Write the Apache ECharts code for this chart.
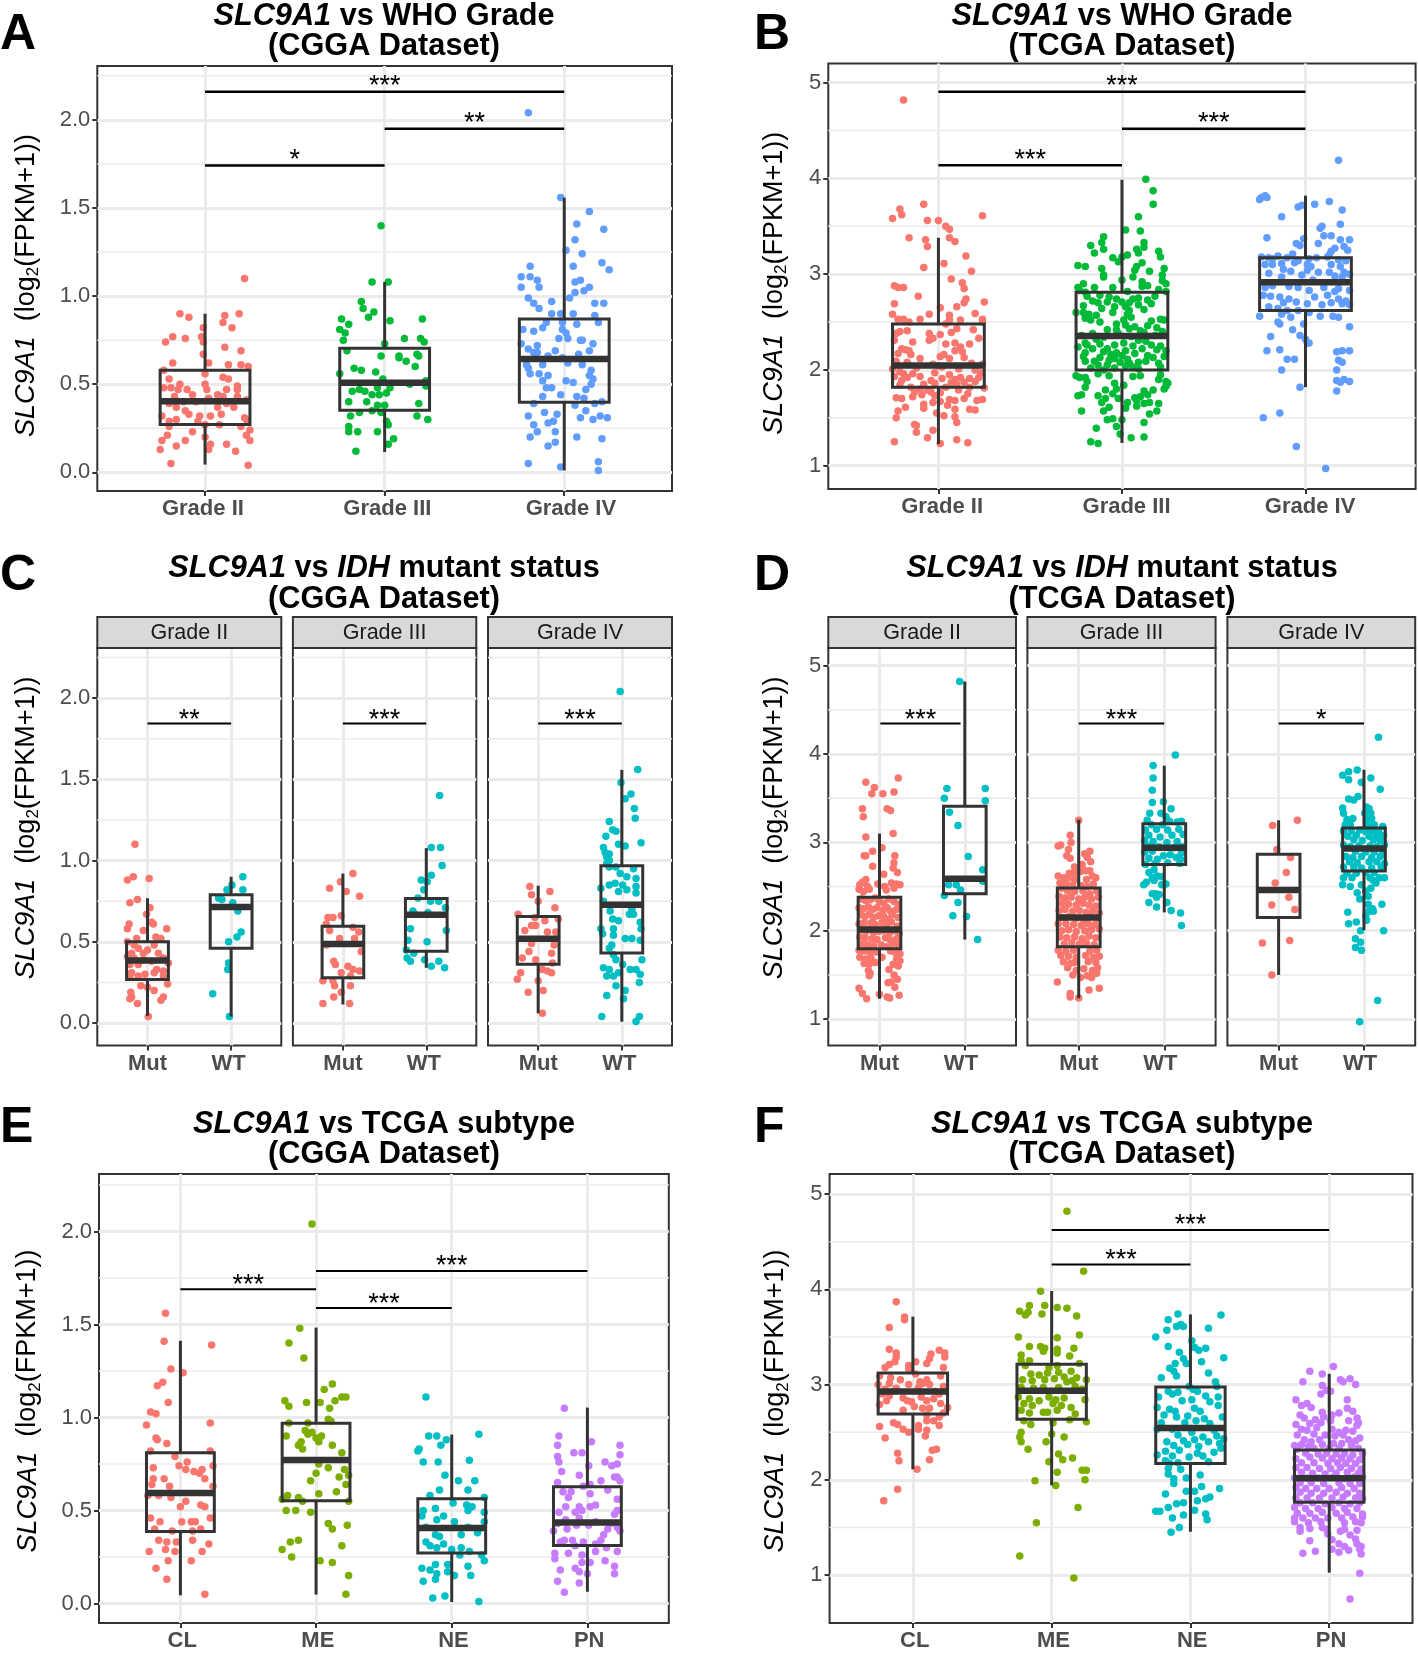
<!DOCTYPE html>
<html><head><meta charset="utf-8">
<style>html,body{margin:0;padding:0;background:#fff}#c{width:1418px;height:1653px}</style>
<script src="https://cdn.jsdelivr.net/npm/echarts@6/dist/echarts.min.js"></script>
</head><body><div id="c"></div>
<script>
// Tick values and labels
const cggaBreaks=[0,.5,1,1.5,2], cggaMinor=[.25,.75,1.25,1.75,2.25];
const tcgaBreaks=[1,2,3,4,5], tcgaMinor=[1.5,2.5,3.5,4.5];
const cggaLabels=['0.0','0.5','1.0','1.5','2.0'], tcgaLabels=['1','2','3','4','5'];
const gradeCats=['Grade II','Grade III','Grade IV'], idhCats=['Mut','WT'], subtypeCats=['CL','ME','NE','PN'];

// Box statistics per group: low whisker, q1, median, q3, high whisker
const boxA=[[.044,.272,.403,.58,.90],[.115,.352,.509,.704,1.08],[.011,.397,.643,.87,1.559]];
const boxB=[[1.226,1.82,2.045,2.48,3.38],[1.237,2.0,2.355,2.81,3.986],[1.82,2.62,2.916,3.17,3.82]];
const boxC2=[[.044,.268,.385,.50,.768],[.04,.46,.714,.789,.90]];
const boxC3=[[.114,.279,.487,.595,.92],[.34,.441,.666,.766,1.076]];
const boxC4=[[.06,.362,.518,.655,.845],[.008,.431,.728,.968,1.558]];
const boxD2=[[1.23,1.795,2.013,2.38,3.10],[1.90,2.42,2.587,3.41,4.82]];
const boxD3=[[1.237,1.818,2.15,2.484,3.256],[2.208,2.75,2.94,3.21,3.868]];
const boxD4=[[1.50,2.15,2.46,2.866,3.25],[2.006,2.675,2.93,3.164,3.822]];
const boxE=[[.044,.387,.594,.811,1.412],[.048,.552,.771,.969,1.483],[.008,.271,.406,.563,.908],[.063,.311,.435,.628,1.053]];
const boxF=[[2.11,2.692,2.927,3.12,3.713],[1.943,2.636,2.934,3.214,3.982],[1.455,2.17,2.543,2.975,3.736],[1.026,1.764,2.017,2.312,3.113]];

// Significance bars: from category, to category, height, stars
const sigA=[[1,3,2.16,'***'],[2,3,1.95,'**'],[1,2,1.742,'*']];
const sigB=[[1,3,4.906,'***'],[2,3,4.519,'***'],[1,2,4.136,'***']];
const sigC2=[[1,2,1.844,'**']], sigC3=[[1,2,1.844,'***']], sigC4=[[1,2,1.844,'***']];
const sigD2=[[1.01,1.95,4.346,'***']], sigD3=[[1,2,4.346,'***']], sigD4=[[1,2,4.346,'*']];
const sigE=[[1,2,1.689,'***'],[2,3,1.588,'***'],[2,4,1.788,'***']];
const sigF=[[2,3,4.261,'***'],[2,4,4.623,'***']];

// Jittered observations, as flat pairs: horizontal jitter, expression value
const A1=[.22,1.1,-.14,.9,-.09,.88,.19,.9,.11,.89,.1,.85,.15,.82,-.01,.82,-.22,.74,-.18,.77,-.11,.76,-.02,.77,-.01,.74,.11,.71,.2,.69,-.01,.67,-.18,.62,.02,.62,.13,.61,.2,.61,.24,.6,-.23,.58,0,.56,-.2,.53,-.14,.5,-.23,.48,-.19,.48,-.15,.47,-.1,.47,0,.5,.01,.47,.1,.54,.13,.53,.18,.49,.18,.47,.12,.47,-.17,.43,-.07,.44,.02,.42,.07,.44,.1,.43,.18,.43,.23,.41,-.2,.39,-.12,.4,-.05,.4,-.16,.37,-.09,.33,-.11,.35,.07,.37,.12,.39,.16,.37,-.03,.32,.03,.32,.09,.33,-.24,.32,-.16,.3,-.2,.29,.22,.31,.23,.3,-.04,.29,.08,.27,0,.27,-.2,.26,.2,.26,-.07,.23,.25,.24,-.21,.21,.23,.21,-.24,.18,-.11,.18,0,.2,.25,.18,-.16,.15,.03,.16,.12,.16,-.25,.13,.02,.13,.17,.12,-.19,.05,.24,.04];
const A2=[-.02,1.4,-.07,1.08,.02,1.08,-.13,.97,-.12,.93,-.06,.91,-.09,.88,.03,.86,-.24,.87,.21,.87,-.2,.84,-.25,.81,-.22,.79,-.23,.75,.11,.76,.2,.76,.22,.74,0,.73,-.21,.69,-.02,.66,.08,.66,.08,.65,.18,.67,.19,.66,.12,.63,.17,.6,-.17,.59,-.13,.58,-.25,.56,-.05,.57,-.01,.53,.23,.52,.23,.49,.14,.5,-.04,.48,.03,.48,-.18,.46,-.14,.47,-.11,.46,-.07,.44,-.03,.44,.01,.45,-.2,.4,-.1,.4,-.04,.38,0,.38,.19,.39,-.19,.32,-.14,.34,-.07,.35,-.02,.34,.18,.32,.24,.3,.01,.29,-.2,.26,.02,.27,-.2,.23,-.15,.23,-.04,.23,.05,.19,.02,.16,-.16,.12];
const A3=[-.2,2.04,-.02,1.56,.14,1.48,.07,1.41,.22,1.38,.06,1.32,.01,1.26,.1,1.24,.21,1.19,.25,1.15,-.19,1.17,.05,1.17,-.24,1.11,-.19,1.11,-.15,1.09,.06,1.08,.09,1.09,-.24,1.05,-.14,1.05,.14,1.05,.11,1.03,.06,1.02,-.2,.99,.03,.99,-.17,.96,-.07,.97,.17,.96,.22,.96,-.14,.93,-.07,.9,-.02,.9,.05,.9,.17,.89,-.01,.85,.19,.85,-.1,.85,.07,.84,-.23,.81,-.12,.82,-.17,.8,-.01,.81,.01,.79,-.03,.76,.02,.76,.09,.75,.1,.75,-.24,.73,.16,.73,-.15,.72,-.2,.7,-.05,.69,-.17,.68,-.15,.68,.14,.69,.08,.67,-.09,.66,-.01,.65,-.21,.61,-.12,.61,.02,.62,.1,.61,-.2,.59,.15,.58,-.19,.56,-.09,.55,-.14,.56,.14,.55,-.12,.52,.01,.52,.05,.51,.16,.53,.15,.5,-.1,.48,-.07,.48,.12,.47,-.12,.43,-.02,.44,.07,.43,.11,.42,-.17,.39,.06,.38,.17,.39,.21,.4,-.11,.34,-.04,.33,-.2,.32,.12,.35,.2,.32,.24,.31,.09,.31,.16,.3,-.17,.27,-.06,.29,-.09,.28,-.19,.2,-.15,.23,-.05,.23,.07,.2,.21,.19,-.05,.17,-.09,.15,-.2,.05,-.02,.03,.19,.06,.19,.01];
const B1=[-.19,4.82,-.21,3.68,-.08,3.73,-.2,3.62,-.25,3.58,-.06,3.56,0,3.56,.24,3.61,.04,3.5,.06,3.47,-.16,3.38,-.07,3.36,.06,3.38,.09,3.34,-.06,3.29,.15,3.19,.03,3.11,-.08,3.07,.18,3.03,.07,2.95,.13,2.91,-.24,2.88,-.22,2.86,-.19,2.86,.14,2.85,-.11,2.77,.15,2.74,.14,2.7,.25,2.71,-.24,2.69,.1,2.66,.01,2.65,.2,2.59,-.25,2.58,-.05,2.58,.06,2.57,-.22,2.53,-.19,2.53,-.1,2.53,.06,2.52,.12,2.52,.24,2.53,-.16,2.5,.24,2.5,.04,2.48,-.17,2.41,-.21,2.4,-.23,2.38,-.05,2.38,.01,2.37,.07,2.39,.1,2.43,.19,2.42,-.03,2.33,-.05,2.31,.22,2.33,-.24,2.31,-.14,2.29,.09,2.28,.04,2.27,.17,2.27,.12,2.24,-.2,2.22,-.18,2.21,-.16,2.2,.09,2.2,.13,2.19,-.22,2.17,-.15,2.16,.03,2.16,.01,2.14,-.1,2.12,.06,2.12,.14,2.13,-.23,2.09,-.17,2.08,.18,2.07,.24,2.06,-.03,2.06,0,2.04,.02,2.03,-.12,2.02,.11,2.01,.2,2,-.25,2.01,-.21,1.98,-.19,1.96,-.14,1.96,-.02,1.97,.06,1.95,.23,1.97,-.24,1.93,-.1,1.93,-.17,1.92,.02,1.91,.12,1.92,.17,1.91,.09,1.9,.22,1.92,-.04,1.89,-.2,1.89,.07,1.87,.14,1.87,.2,1.88,-.21,1.84,-.08,1.85,-.02,1.86,.1,1.85,.25,1.81,.17,1.82,-.15,1.82,.04,1.82,-.1,1.8,-.06,1.79,.11,1.79,-.13,1.77,-.04,1.77,.01,1.76,.16,1.75,-.09,1.74,-.02,1.73,-.14,1.72,-.23,1.71,-.2,1.7,.06,1.69,.09,1.68,.14,1.7,.21,1.68,.24,1.69,.01,1.67,-.03,1.66,.05,1.63,-.08,1.64,-.18,1.61,-.08,1.6,.09,1.59,.17,1.59,.2,1.58,-.22,1.57,-.01,1.55,.03,1.52,-.23,1.5,.09,1.51,.1,1.45,-.13,1.43,-.12,1.42,-.03,1.37,-.12,1.35,-.06,1.29,.1,1.27,-.24,1.25,.16,1.24,.01,1.23];
const B2=[.13,3.99,.17,3.87,.17,3.73,.09,3.6,.1,3.45,.02,3.46,-.1,3.39,-.11,3.33,-.17,3.3,.12,3.33,.12,3.28,-.1,3.26,-.15,3.22,.08,3.26,.09,3.22,.2,3.24,.03,3.2,0,3.18,.21,3.18,-.05,3.17,-.24,3.09,-.2,3.08,-.02,3.13,.11,3.12,-.11,3.06,.08,3.08,.23,3.06,.07,3.04,.15,3.03,.22,2.99,-.1,2.99,-.1,2.97,.06,2.97,0,2.94,.11,2.92,.22,2.93,.24,2.9,-.21,2.9,-.24,2.86,-.15,2.86,-.05,2.86,.11,2.87,.14,2.88,-.23,2.83,-.2,2.81,.03,2.82,.2,2.84,.24,2.82,-.19,2.77,-.12,2.78,-.07,2.76,-.03,2.74,.06,2.74,.09,2.75,.14,2.73,.18,2.77,-.16,2.72,-.13,2.7,-.08,2.71,0,2.71,.04,2.7,.09,2.68,.16,2.69,-.21,2.67,-.04,2.66,.02,2.66,-.11,2.64,.04,2.62,.12,2.63,-.25,2.6,-.21,2.6,-.18,2.58,-.14,2.57,-.05,2.6,.03,2.58,.05,2.55,-.2,2.54,-.17,2.52,-.12,2.5,.01,2.52,.21,2.53,.16,2.51,.23,2.52,-.03,2.48,.02,2.47,.07,2.45,.14,2.46,.19,2.44,-.08,2.42,-.03,2.42,.04,2.43,.1,2.41,.12,2.39,.22,2.4,-.16,2.38,-.02,2.38,-.22,2.36,-.1,2.34,.05,2.35,.18,2.36,-.14,2.32,.09,2.31,.13,2.3,-.2,2.28,-.19,2.26,-.12,2.27,-.04,2.26,.01,2.28,.06,2.25,.16,2.26,.21,2.25,-.24,2.24,-.16,2.22,-.08,2.22,.02,2.2,.11,2.22,.19,2.21,.24,2.2,-.2,2.18,-.1,2.19,-.03,2.18,-.06,2.16,0,2.15,.07,2.17,.14,2.15,-.21,2.14,-.12,2.13,-.04,2.12,.03,2.11,.17,2.13,.23,2.14,-.2,2.09,-.15,2.09,-.07,2.1,-.01,2.08,.04,2.07,.09,2.08,.13,2.09,.2,2.07,-.13,2.05,-.08,2.05,.02,2.04,.06,2.03,.21,2.03,-.17,2.02,-.1,2,-.04,2.02,.09,2.01,-.25,1.94,-.23,1.92,-.2,1.92,-.13,1.96,-.07,1.94,.06,1.93,.1,1.94,.21,1.95,.24,1.88,.2,1.9,-.19,1.88,-.04,1.86,.01,1.84,.25,1.86,-.2,1.82,-.09,1.79,-.03,1.8,.12,1.78,.17,1.79,.23,1.8,.24,1.83,-.24,1.73,-.22,1.74,-.13,1.73,-.09,1.7,-.05,1.75,.14,1.74,.1,1.72,.07,1.71,.08,1.68,-.11,1.66,-.02,1.7,.03,1.66,.12,1.65,.15,1.66,.2,1.65,-.22,1.57,-.1,1.57,-.07,1.61,.02,1.6,.08,1.62,.15,1.54,.19,1.57,-.08,1.48,-.05,1.49,0,1.48,.12,1.45,-.14,1.39,-.03,1.41,-.01,1.33,.05,1.29,.12,1.3,-.17,1.25,-.13,1.23];
const B3=[.18,4.19,-.25,3.78,-.24,3.8,-.22,3.82,-.21,3.8,-.02,3.72,-.04,3.7,.05,3.73,.13,3.76,.2,3.67,-.13,3.6,.19,3.52,.09,3.5,.08,3.48,.1,3.4,.14,3.4,.19,3.36,.24,3.36,-.21,3.38,-.03,3.3,-.05,3.32,-.01,3.37,.07,3.32,.14,3.24,.13,3.2,.16,3.27,.21,3.29,.23,3.25,-.15,3.19,-.24,3.18,-.07,3.21,-.2,3.17,-.18,3.16,-.1,3.17,-.04,3.14,.02,3.16,.06,3.17,.12,3.18,.18,3.15,.22,3.14,-.22,3.1,-.18,3.1,-.13,3.11,-.06,3.12,.01,3.1,.03,3.08,.14,3.1,.19,3.08,-.12,3.05,-.08,3.03,.01,3.04,.07,3.02,.13,3.02,.21,3.02,.24,3,-.2,3.01,-.02,2.99,-.13,2.97,.16,2.98,.2,2.97,.04,2.94,-.22,2.86,-.18,2.88,-.09,2.87,-.04,2.86,.02,2.83,.1,2.86,.18,2.85,.16,2.82,.24,2.83,-.23,2.78,-.19,2.77,-.14,2.76,-.09,2.74,.05,2.76,.12,2.78,.18,2.74,.22,2.72,-.12,2.7,-.05,2.71,.01,2.69,.09,2.68,.14,2.7,.2,2.69,.24,2.68,-.2,2.66,-.15,2.64,-.1,2.62,-.04,2.62,.02,2.6,-.25,2.56,-.13,2.58,.08,2.56,.15,2.56,.18,2.55,-.08,2.55,-.14,2.48,-.15,2.5,-.01,2.48,.24,2.45,-.07,2.42,-.19,2.35,-.03,2.36,0,2.32,.01,2.28,.02,2.28,-.21,2.2,-.14,2.21,.17,2.19,.2,2.2,.24,2.2,-.1,2.11,-.06,2.11,.18,2.1,.2,2.08,-.13,2,.17,2,.17,1.89,.19,1.87,.21,1.9,.24,1.88,-.03,1.82,.17,1.78,-.14,1.55,-.23,1.5,-.05,1.2,.11,.97];
const C2a=[-.15,1.1,-.17,.9,-.24,.88,.02,.89,-.12,.76,-.21,.74,.03,.71,-.01,.67,.05,.62,.07,.61,-.22,.61,-.24,.58,.23,.58,-.05,.57,.1,.53,-.13,.52,.16,.52,-.24,.5,-.16,.48,.08,.48,-.11,.46,0,.45,-.19,.43,-.05,.43,.13,.43,-.24,.41,-.16,.4,.19,.4,-.05,.39,.05,.38,.25,.37,-.21,.36,-.11,.36,.11,.33,.19,.32,-.19,.31,-.03,.3,-.11,.29,.08,.31,.19,.29,-.21,.28,.24,.24,-.08,.23,0,.22,-.2,.19,.08,.2,-.21,.15,-.19,.16,.19,.16,.16,.14,-.12,.12,.01,.04];
const C2b=[.14,.9,.01,.85,-.05,.82,.14,.82,-.15,.77,-.11,.76,.02,.74,.08,.69,.12,.56,.07,.53,-.03,.5,-.03,.37,-.04,.33,-.22,.18,-.02,.04];
const C3a=[.12,.92,-.03,.87,-.16,.83,.04,.81,.2,.78,-.18,.65,-.12,.65,-.02,.66,-.2,.61,.12,.59,-.16,.57,-.04,.52,.19,.56,.14,.52,-.2,.48,.22,.44,-.11,.38,-.09,.36,.06,.35,.12,.33,.2,.32,-.02,.31,.09,.29,-.24,.26,-.12,.26,-.1,.23,.09,.23,-.02,.19,-.11,.16,-.24,.12,.08,.12];
const C3b=[.16,1.4,.06,1.08,.17,1.08,.19,.97,.06,.91,-.06,.88,.01,.87,-.03,.82,-.1,.77,.05,.75,.15,.75,-.16,.69,-.14,.67,.02,.68,.23,.71,-.19,.58,.24,.57,-.22,.51,.01,.5,-.24,.45,-.15,.43,-.23,.4,-.19,.38,-.02,.39,.15,.38,.06,.35,.22,.34];
const C4a=[-.1,.84,.14,.81,-.08,.79,0,.75,.2,.71,-.24,.67,-.04,.65,.08,.63,.24,.64,-.08,.6,-.03,.6,-.16,.57,.11,.56,.21,.56,-.08,.49,.19,.48,-.11,.44,.16,.43,-.19,.4,-.03,.39,.17,.37,-.21,.31,.05,.33,.11,.32,.16,.31,-.25,.27,0,.26,-.12,.19,.06,.2,.05,.06];
const C4b=[-.02,2.04,.19,1.56,-.01,1.48,.11,1.41,.04,1.38,.15,1.32,.16,1.26,-.15,1.24,-.11,1.19,-.07,1.18,-.19,1.15,-.04,1.1,.04,1.09,.23,1.11,-.22,1.08,-.2,1.05,-.15,1.04,-.18,1.02,-.15,1,-.18,.98,-.15,.96,-.07,.96,.14,.95,-.02,.92,.06,.9,.17,.89,-.25,.83,-.15,.85,-.08,.86,.01,.85,.17,.84,.06,.82,-.04,.81,.17,.8,-.22,.75,-.14,.69,.09,.67,.14,.67,.12,.7,-.11,.64,-.04,.63,.22,.62,-.1,.58,-.25,.58,.23,.58,-.23,.55,-.1,.54,.04,.52,.12,.52,-.12,.48,.22,.51,-.15,.46,-.1,.42,-.07,.39,.24,.39,.01,.36,-.22,.34,-.15,.33,.1,.33,.17,.33,-.04,.31,.22,.3,-.18,.29,-.1,.29,.21,.25,-.07,.23,.04,.2,-.18,.17,.02,.15,-.24,.04,.21,.04,.17,.01];
const D2a=[-.16,3.68,.22,3.73,-.06,3.62,-.09,3.55,.04,3.55,.17,3.57,-.2,3.38,.09,3.38,.13,3.36,-.19,3.29,.16,3.1,-.16,3.06,-.08,2.9,-.18,2.85,-.16,2.85,.18,2.85,.03,2.94,.17,2.77,-.08,2.73,.16,2.71,.21,2.66,.05,2.64,-.16,2.58,-.2,2.55,-.23,2.52,-.14,2.5,-.02,2.53,.06,2.5,.14,2.54,.2,2.53,.24,2.52,-.24,2.47,-.19,2.44,-.12,2.47,.08,2.46,.17,2.48,-.21,2.36,-.16,2.34,-.11,2.35,-.05,2.37,0,2.33,.05,2.31,.11,2.36,.17,2.33,.22,2.3,-.24,2.26,-.19,2.25,-.13,2.27,-.08,2.24,-.03,2.26,.04,2.23,.09,2.26,.13,2.22,.2,2.24,-.22,2.18,-.17,2.16,-.12,2.19,-.07,2.15,-.01,2.17,.05,2.16,.1,2.13,.15,2.18,.22,2.15,-.24,2.08,-.18,2.09,-.1,2.09,-.05,2.07,.03,2.09,.08,2.07,.14,2.1,.21,2.05,-.21,2.01,-.16,1.99,-.13,2.02,-.07,1.98,-.01,1.99,.04,2,.12,1.98,.18,2,.23,1.97,-.23,1.93,-.17,1.92,-.09,1.91,-.03,1.9,.07,1.92,.12,1.9,.2,1.91,-.2,1.85,-.14,1.84,-.07,1.83,.02,1.84,.09,1.82,.15,1.85,.22,1.84,-.24,1.78,-.18,1.77,-.11,1.75,-.04,1.76,.13,1.77,.19,1.75,.24,1.74,-.23,1.7,-.16,1.68,-.1,1.69,.03,1.7,.2,1.68,.24,1.66,-.18,1.63,-.12,1.62,-.05,1.64,.16,1.62,.22,1.6,-.13,1.55,-.11,1.52,-.12,1.49,.11,1.56,.17,1.5,.21,1.45,.18,1.36,.1,1.41,.14,1.42,-.24,1.35,-.2,1.29,-.15,1.23,.09,1.25,.12,1.24,.23,1.27,0,1.28];
const D2b=[-.06,4.82,-.21,3.61,.24,3.61,-.24,3.5,.24,3.47,-.18,3.34,-.08,3.19,.04,2.84,.21,2.69,-.19,2.52,-.1,2.52,-.05,2.46,-.24,2.4,-.08,2.32,-.14,2.17,.02,2.16,.15,1.9,.21,2.56];
const D3a=[0,3.25,-.1,3.08,-.09,3,-.24,2.96,-.21,2.97,-.12,2.92,.13,2.9,.07,2.87,-.14,2.85,-.1,2.82,.1,2.83,.14,2.78,.04,2.75,-.05,2.72,.13,2.68,-.11,2.65,-.05,2.66,.02,2.67,.08,2.68,.16,2.62,-.24,2.62,-.17,2.6,-.11,2.6,-.04,2.58,.09,2.58,.2,2.6,-.22,2.54,-.15,2.53,-.07,2.52,.03,2.51,.1,2.5,.17,2.53,-.2,2.48,-.13,2.45,-.05,2.44,.05,2.45,.13,2.42,.21,2.45,-.23,2.39,-.16,2.37,-.09,2.38,0,2.36,.07,2.38,.15,2.36,.23,2.38,-.2,2.31,-.12,2.3,-.03,2.29,.05,2.31,.12,2.29,.2,2.28,-.23,2.23,-.16,2.24,-.07,2.22,.01,2.23,.09,2.21,.17,2.23,.24,2.2,-.19,2.15,-.11,2.16,-.03,2.14,.06,2.12,.14,2.16,.22,2.14,-.24,2.08,-.15,2.08,-.06,2.07,.03,2.06,.11,2.08,.19,2.07,-.2,2,-.12,2.01,-.03,1.99,.07,2,.15,2.01,.24,2.02,-.22,1.93,-.14,1.92,-.05,1.93,.04,1.91,.12,1.94,.2,1.92,-.17,1.85,-.08,1.86,.01,1.85,.09,1.86,.18,1.84,-.24,1.78,-.15,1.77,-.06,1.78,.13,1.77,.21,1.78,-.21,1.72,-.12,1.71,-.03,1.7,.08,1.72,.17,1.7,.24,1.71,-.18,1.65,-.1,1.63,-.05,1.64,.11,1.65,.2,1.64,.22,1.58,-.13,1.58,-.03,1.55,.06,1.57,.16,1.55,.21,1.52,-.07,1.5,.02,1.47,.1,1.49,.15,1.47,-.25,1.42,.12,1.33,.24,1.35,-.1,1.29,-.1,1.25,0,1.24];
const D3b=[.13,3.99,-.13,3.87,-.13,3.73,-.14,3.59,-.14,3.45,-.01,3.46,.08,3.38,-.17,3.33,-.04,3.33,.02,3.29,-.2,3.25,.06,3.24,-.15,3.2,-.02,3.2,.15,3.23,.2,3.24,-.22,3.14,-.09,3.15,.04,3.14,.17,3.15,-.18,3.08,-.05,3.06,.09,3.08,.22,3.09,-.23,3.02,-.13,3.01,.03,3,.15,3.01,-.19,2.96,-.06,2.95,.11,2.94,.21,2.95,-.23,2.89,-.14,2.9,-.01,2.85,.07,2.86,.2,2.88,-.18,2.82,-.08,2.81,.14,2.83,.19,2.81,-.22,2.75,-.11,2.76,.04,2.77,.18,2.76,-.12,2.69,-.18,2.66,-.14,2.6,-.08,2.62,-.03,2.61,-.21,2.55,-.12,2.57,-.03,2.52,.02,2.53,-.24,2.52,-.14,2.42,-.09,2.38,-.1,2.42,-.06,2.41,-.18,2.32,-.09,2.27,.03,2.32,.08,2.23,.19,2.2,.2,2.06];
const D4a=[.22,3.25,-.07,3.19,-.02,2.92,.14,2.83,.09,2.66,-.04,2.54,.12,2.38,-.08,2.29,.19,2.24,-.19,1.86,.13,1.89,-.08,1.5];
const D4b=[.17,4.19,-.08,3.82,-.18,3.8,-.25,3.76,-.18,3.71,.08,3.73,-.03,3.68,.19,3.6,-.07,3.52,-.18,3.49,-.12,3.48,-.25,3.39,.03,3.4,.06,3.38,-.24,3.33,.01,3.33,.08,3.33,-.13,3.27,-.2,3.26,.03,3.26,.09,3.27,-.22,3.2,-.16,3.2,.05,3.19,.12,3.2,.22,3.18,-.24,3.13,-.15,3.13,-.05,3.14,.02,3.12,.1,3.13,.17,3.13,-.19,3.07,-.09,3.08,.06,3.07,.15,3.08,.23,3.08,-.12,3.03,-.02,3.02,.11,3.03,.19,3.02,.24,2.97,-.24,2.97,-.16,2.95,-.06,2.96,.07,2.96,.15,2.95,-.1,2.9,.02,2.89,.12,2.89,.22,2.89,-.21,2.84,-.13,2.83,-.03,2.84,.09,2.83,.19,2.84,-.17,2.78,-.08,2.77,.06,2.78,.15,2.78,.24,2.76,-.24,2.72,-.12,2.72,-.03,2.71,.09,2.71,.2,2.72,-.2,2.65,-.09,2.65,.02,2.66,.12,2.66,-.24,2.6,-.14,2.6,.07,2.6,.18,2.6,.24,2.6,.14,2.54,.11,2.57,-.25,2.52,-.16,2.5,-.03,2.52,.02,2.45,.08,2.48,-.08,2.43,.05,2.39,-.05,2.36,.21,2.3,.05,2.3,.1,2.25,.06,2.22,.11,2.22,-.19,2.21,.02,2.17,-.18,2.08,-.09,2.1,.03,2.12,.23,2,-.04,2,-.1,1.91,-.04,1.87,-.1,1.81,-.03,1.78,.16,1.21,-.05,.97];
const E1=[-.11,1.56,-.12,1.41,.23,1.39,-.07,1.26,.02,1.24,-.13,1.19,-.17,1.17,-.09,1.08,-.22,1.03,-.18,1.02,-.25,.96,.22,.97,-.18,.89,-.17,.88,-.1,.86,.22,.82,-.22,.82,-.04,.79,.05,.76,-.01,.74,.24,.74,.04,.72,.1,.71,.16,.72,-.2,.73,.14,.7,-.2,.67,-.12,.67,.18,.67,-.21,.64,-.08,.63,.24,.63,-.24,.58,-.16,.58,-.07,.57,.04,.55,.15,.53,0,.52,.18,.52,-.22,.46,.22,.46,-.15,.44,.01,.44,.08,.44,.11,.44,-.19,.4,-.06,.39,.09,.39,.15,.4,-.16,.34,-.1,.33,-.03,.33,.09,.34,.21,.32,-.11,.29,-.04,.28,-.23,.28,.16,.28,-.09,.23,.08,.23,-.18,.19,-.1,.13,.18,.05];
const E2=[-.03,2.04,-.12,1.48,-.2,1.4,-.09,1.32,.12,1.18,.06,1.15,.19,1.11,.22,1.11,.14,1.09,-.23,1.09,-.2,1.06,-.07,1.08,.03,1.08,.1,1.05,.09,.99,.11,.98,-.2,.97,-.06,.97,-.08,.93,-.03,.92,-.06,.91,.04,.9,-.22,.9,0,.89,.02,.87,-.11,.87,-.13,.85,.12,.85,-.1,.83,.19,.81,.02,.75,.09,.73,.21,.72,0,.7,.24,.69,.17,.68,-.04,.66,.22,.64,.15,.6,.02,.59,-.21,.58,-.13,.57,-.25,.56,-.1,.55,.24,.55,-.22,.5,-.15,.5,-.04,.49,.09,.43,.23,.42,.12,.4,-.13,.34,-.19,.33,.19,.31,-.25,.29,-.18,.25,.03,.23,.12,.22,.24,.15,.22,.05];
const E3=[-.19,1.11,.2,.91,-.17,.9,-.11,.9,-.04,.88,-.08,.85,-.24,.83,-.25,.82,-.21,.76,-.1,.76,.13,.77,-.05,.69,.05,.66,.17,.66,-.09,.61,.12,.61,-.16,.58,.24,.57,.01,.54,.11,.53,.15,.52,-.21,.5,-.12,.51,.12,.5,.24,.49,-.22,.47,-.06,.47,-.11,.45,.02,.44,.24,.44,-.19,.41,.12,.41,.2,.4,-.12,.37,-.09,.36,.07,.37,.19,.38,-.19,.33,-.16,.31,-.06,.32,-.11,.3,.07,.3,0,.29,.13,.28,.06,.26,.22,.26,.24,.23,-.03,.21,-.12,.21,.12,.2,-.22,.19,-.16,.18,-.03,.17,-.11,.16,.02,.15,.14,.15,-.21,.12,-.12,.13,-.14,.03,-.05,.04,.2,.01];
const E4=[-.17,1.05,-.21,.9,.03,.87,-.22,.85,.24,.85,-.1,.81,-.04,.81,.24,.8,-.22,.79,-.21,.76,.13,.76,.18,.74,.22,.75,.01,.74,-.19,.71,-.06,.69,.22,.68,.2,.68,.24,.66,.1,.66,-.22,.65,.02,.64,-.18,.6,-.12,.6,-.03,.63,.15,.61,.02,.59,-.14,.57,.22,.56,.06,.53,-.16,.52,-.06,.52,.02,.52,.22,.5,-.21,.49,-.09,.49,-.04,.5,.2,.48,-.06,.46,-.16,.45,.06,.44,-.22,.43,.17,.43,-.08,.42,.01,.42,.22,.41,-.25,.39,-.15,.4,.15,.4,.24,.39,.12,.37,-.17,.34,-.11,.34,-.03,.33,.1,.34,-.2,.33,.06,.32,-.09,.31,.14,.3,.22,.28,-.24,.27,-.14,.27,.06,.28,-.04,.26,-.24,.24,.13,.23,.02,.22,-.04,.22,.2,.2,-.09,.19,-.2,.18,-.06,.17,.2,.16,0,.16,-.22,.12,-.06,.11,-.17,.06];
const F1=[-.12,3.87,-.06,3.71,-.06,3.68,-.17,3.6,-.17,3.37,.19,3.36,.23,3.33,-.12,3.33,.13,3.32,-.12,3.29,.23,3.29,.12,3.27,-.13,3.24,-.17,3.21,.02,3.24,-.2,3.18,.1,3.22,-.03,3.2,.22,3.18,-.03,3.16,-.24,3.09,.02,3.11,.1,3.05,.2,3.09,-.25,3,-.17,3.01,.07,3.01,.12,3,.22,2.98,-.12,2.96,-.03,3,.04,2.97,-.19,2.83,-.07,2.86,-.04,2.83,.1,2.83,.19,2.9,-.22,2.9,-.24,2.79,-.07,2.73,.01,2.77,.07,2.75,.12,2.75,.25,2.76,.22,2.7,.1,2.68,.19,2.66,.15,2.62,.1,2.62,-.14,2.6,-.11,2.58,-.24,2.56,.19,2.57,.04,2.57,.04,2.53,-.07,2.53,-.03,2.5,.1,2.52,.09,2.46,-.2,2.44,.14,2.31,.17,2.32,-.11,2.28,-.1,2.2,.12,2.21,.03,2.11,-.11,1.9,-.21,1.78,-.16,3.07,-.09,3.05,.05,3.03,-.2,2.95,-.14,2.93,.16,2.93,-.17,2.88,.06,2.87,.15,2.85,-.01,2.82,.2,2.8];
const F2=[.11,4.82,.23,4.19,-.08,3.98,-.05,3.83,.04,3.81,-.16,3.83,.11,3.8,-.23,3.77,-.17,3.76,-.19,3.73,-.07,3.74,.18,3.72,.2,3.52,-.24,3.5,.04,3.49,-.16,3.4,-.08,3.4,-.05,3.38,.16,3.38,-.06,3.35,.04,3.37,.04,3.33,-.22,3.31,.13,3.3,-.22,3.25,-.16,3.25,.2,3.22,.04,3.2,-.02,3.18,-.19,3.2,.14,3.14,-.15,3.11,-.09,3.1,-.03,3.12,.05,3.13,.09,3.08,.18,3.07,-.21,3.05,-.14,3.04,-.05,3.05,.02,3.06,.11,3.03,.15,3.04,.25,3.05,-.22,2.97,-.13,2.96,-.06,2.97,.05,2.97,.17,2.98,.22,2.95,-.24,2.87,-.16,2.85,-.09,2.83,-.02,2.87,.03,2.84,.09,2.86,.24,2.84,-.2,2.8,-.14,2.78,.01,2.8,.07,2.78,.14,2.76,.04,2.73,-.22,2.73,-.16,2.7,-.06,2.71,-.03,2.71,.17,2.69,.25,2.61,-.2,2.62,-.15,2.58,.01,2.6,.13,2.63,-.22,2.5,-.23,2.45,-.22,2.4,.09,2.45,-.04,2.4,0,2.48,-.17,2.32,.05,2.27,.15,2.23,.08,2.21,-.02,2.19,.22,2.1,.25,2.1,.04,2.08,.24,2,-.12,1.99,.03,1.94,.19,1.71,-.11,1.55,-.23,1.2,.16,.97];
const F3=[.22,3.73,-.09,3.74,-.16,3.68,-.07,3.63,-.1,3.61,-.17,3.57,-.05,3.61,.13,3.59,-.25,3.5,-.16,3.4,.01,3.46,.03,3.39,.11,3.38,.06,3.36,-.08,3.34,.24,3.28,-.05,3.27,-.03,3.22,.08,3.24,-.11,3.22,-.15,3.17,-.12,3.14,.13,3.12,-.1,3.09,-.21,3.07,.18,3.03,-.01,2.98,.02,2.95,.19,2.98,-.16,2.93,-.09,2.92,.05,2.93,.11,2.88,.2,2.87,-.23,2.87,-.13,2.9,.01,2.84,-.06,2.83,.14,2.82,.2,2.78,-.24,2.76,-.15,2.74,-.11,2.72,.03,2.75,.07,2.72,-.19,2.68,-.1,2.66,-.02,2.67,.1,2.64,.23,2.66,-.21,2.6,-.04,2.6,.04,2.62,.14,2.59,-.24,2.53,-.13,2.53,.01,2.5,.17,2.52,-.09,2.47,.09,2.45,.19,2.46,.24,2.43,-.17,2.4,-.05,2.41,.03,2.42,.13,2.4,.21,2.38,-.12,2.36,-.02,2.37,.06,2.35,.22,2.33,-.18,2.3,-.08,2.31,.05,2.28,.17,2.29,-.24,2.26,-.13,2.25,-.01,2.24,.09,2.25,-.18,2.2,-.15,2.17,-.09,2.18,.13,2.19,-.16,2.12,-.07,2.11,-.16,2.06,.07,2.05,-.12,2.01,-.03,2.02,-.12,1.96,.08,1.93,.21,1.91,-.03,1.88,.03,1.88,-.18,1.85,.11,1.8,.14,1.82,.05,1.78,.03,1.68,-.05,1.76,-.1,1.75,-.16,1.71,-.25,1.67,-.22,1.67,.11,1.64,-.05,1.63,-.13,1.6,.12,1.58,-.08,1.5,-.14,1.45];
const F4=[.03,3.19,-.14,3.14,-.05,3.11,.08,3.05,.15,3.06,-.19,3.03,.1,3.03,.19,3,-.05,2.99,-.02,2.94,-.06,2.9,.01,2.93,-.24,2.84,.13,2.84,-.16,2.8,-.2,2.78,-.13,2.76,.13,2.75,.17,2.72,-.05,2.71,.02,2.68,.07,2.7,-.21,2.68,-.18,2.65,-.1,2.63,-.04,2.66,.2,2.65,.21,2.6,-.24,2.58,-.14,2.59,-.06,2.6,.01,2.62,.14,2.62,.2,2.57,-.2,2.53,-.16,2.52,-.09,2.55,.02,2.53,.07,2.5,.12,2.52,.17,2.51,-.23,2.47,-.11,2.48,-.03,2.47,.04,2.46,.1,2.47,.22,2.44,-.18,2.42,-.13,2.4,-.07,2.42,.14,2.42,.19,2.41,-.25,2.36,-.2,2.37,-.15,2.35,-.05,2.37,.03,2.38,.09,2.38,.16,2.36,-.23,2.32,-.11,2.33,0,2.33,.07,2.33,.21,2.33,-.17,2.28,-.08,2.27,-.02,2.28,.05,2.27,.11,2.28,.17,2.26,.24,2.28,-.24,2.22,-.14,2.24,-.05,2.23,.02,2.22,.09,2.23,.15,2.22,.22,2.21,-.2,2.18,-.11,2.18,-.01,2.17,.06,2.18,.12,2.17,.19,2.17,-.24,2.13,-.16,2.13,-.07,2.12,.01,2.12,.08,2.13,.16,2.12,.23,2.11,-.2,2.08,-.12,2.07,-.03,2.06,.05,2.07,.13,2.08,.21,2.07,-.25,2.02,-.16,2.02,-.08,2.02,.03,2.03,.11,2.01,.18,2.03,.24,2.03,-.21,1.97,-.13,1.97,-.04,1.96,.07,1.97,.15,1.96,.22,1.96,-.24,1.92,-.17,1.91,-.09,1.91,0,1.91,.09,1.92,.18,1.91,-.21,1.87,-.13,1.86,-.04,1.86,.05,1.87,.13,1.86,.22,1.86,-.24,1.81,-.16,1.81,-.07,1.81,.02,1.81,.1,1.82,.19,1.81,.24,1.8,-.21,1.76,-.12,1.76,-.03,1.75,.07,1.76,.15,1.75,.22,1.76,-.25,1.71,-.17,1.7,-.08,1.7,.02,1.71,.11,1.7,.2,1.7,-.23,1.65,-.14,1.65,-.05,1.66,.05,1.65,.13,1.66,.24,1.64,-.25,1.6,-.19,1.6,-.1,1.6,-.01,1.6,.09,1.6,.17,1.61,.24,1.61,-.25,1.56,-.15,1.55,-.06,1.56,.11,1.55,.19,1.56,.23,1.55,-.21,1.5,-.14,1.49,-.05,1.5,-.02,1.48,.11,1.48,.2,1.47,-.21,1.46,.08,1.46,-.01,1.43,.15,1.42,.19,1.38,-.14,1.36,.02,1.37,.07,1.33,.11,1.3,.2,1.33,.23,1.3,.02,1.27,.14,1.26,.22,1.27,.23,1.22,-.19,1.23,-.1,1.25,.07,1.24,.22,1.02,.15,.75];

// Colours of the groups
const gradeColors=['#F8766D','#00BA38','#619CFF'], idhColors=['#F8766D','#00BFC4'], subtypeColors=['#F8766D','#7CAE00','#00BFC4','#C77CFF'];

const FONT='"Liberation Sans",Arial,Helvetica,sans-serif';
const grid=[],xAxis=[],yAxis=[],series=[],title=[],graphic=[];
function pairs(flat,cat){const o=[];for(let i=0;i<flat.length;i+=2)o.push([cat+flat[i],flat[i+1]]);return o;}
const yNameText='{i|SLC9A1}  (log{s|2}(FPKM+1))';
const yNameRich={i:{fontStyle:'italic',fontSize:27,fontFamily:FONT,color:'#000'},s:{fontSize:17,fontFamily:FONT,color:'#000',verticalAlign:'bottom',padding:[15,0,0,0]}};
function facet(f){
  const k=grid.length,n=f.cats.length;
  grid.push({left:f.x,top:f.top,width:f.w,height:f.h,show:true,backgroundColor:'#fff',borderColor:'#333',borderWidth:2,z:0});
  const lineG={show:true,lineStyle:{color:'#ebebeb',width:3}};
  const xt=f.cats.map((c,i)=>i+1);
  const lab=f.cats.map((c,i)=>i+1+(f.labelShift?f.labelShift[i]:0));
  xAxis.push({gridIndex:k,type:'value',min:.4,max:n+.6,position:'bottom',axisLine:{show:false,onZero:false},
    axisTick:{show:true,length:5,customValues:xt,lineStyle:{color:'#333',width:2}},
    axisLabel:{show:true,customValues:lab,margin:7,color:'#4d4d4d',fontWeight:'bold',fontSize:22,fontFamily:FONT,formatter:v=>f.cats[Math.round(v)-1]},
    splitLine:lineG});
  const y={gridIndex:k,type:'value',min:f.ymin,max:f.ymax,axisLine:{show:false,onZero:false},
    axisTick:{show:!!f.gap,length:5,customValues:f.breaks,lineStyle:{color:'#333',width:2}},
    axisLabel:{show:!!f.gap,customValues:f.breaks,margin:7,color:'#4d4d4d',fontSize:22,fontFamily:FONT,formatter:v=>f.tickLabels[f.breaks.indexOf(v)]},
    splitLine:lineG};
  if(f.gap){Object.assign(y,{name:yNameText,nameLocation:'middle',nameGap:f.gap,nameRotate:90,
    nameTextStyle:{fontFamily:FONT,fontSize:27,color:'#000',rich:yNameRich,padding:f.namePad||0}});}
  yAxis.push(y);
  const ax={xAxisIndex:k,yAxisIndex:k,coordinateSystem:'cartesian2d',silent:true};
  series.push({...ax,type:'custom',z:1,data:f.minors.map(v=>[.4,v]),
    renderItem:(p,api)=>{const c=p.coordSys,yy=api.coord([.4,api.value(1)])[1];
      return {type:'line',shape:{x1:c.x,y1:yy,x2:c.x+c.width,y2:yy},style:{stroke:'#ebebeb',lineWidth:1.5}};}});
  f.groups.forEach((g,i)=>series.push({...ax,type:'scatter',z:2,symbolSize:7.5,itemStyle:{color:f.colors[i],opacity:1},data:pairs(g,i+1)}));
  series.push({...ax,type:'custom',z:3,data:f.boxes.map((b,i)=>[i+1,...b]),
    renderItem:(p,api)=>{const x=api.value(0),hw=.25,st={stroke:'#333',lineWidth:3,fill:'none'};
      const P=(a,b)=>api.coord([a,b]);
      const L=P(x-hw,0)[0],R=P(x+hw,0)[0],C=P(x,0)[0],lo=P(x,api.value(1))[1],q1=P(x,api.value(2))[1],md=P(x,api.value(3))[1],q3=P(x,api.value(4))[1],hi=P(x,api.value(5))[1];
      return {type:'group',children:[
        {type:'line',shape:{x1:C,y1:hi,x2:C,y2:q3},style:st},
        {type:'line',shape:{x1:C,y1:q1,x2:C,y2:lo},style:st},
        {type:'rect',shape:{x:L,y:q3,width:R-L,height:q1-q3},style:st},
        {type:'line',shape:{x1:L,y1:md,x2:R,y2:md},style:{stroke:'#333',lineWidth:6.5}}]};}});
  series.push({...ax,type:'custom',z:4,data:f.sig.map(s=>s.slice(0,3)),
    renderItem:(p,api)=>{const a=api.coord([api.value(0),api.value(2)]),b=api.coord([api.value(1),api.value(2)]);
      return {type:'group',children:[
        {type:'line',shape:{x1:a[0],y1:a[1],x2:b[0],y2:b[1]},style:{stroke:'#000',lineWidth:f.sigW||2.5}},
        {type:'text',style:{x:(a[0]+b[0])/2,y:a[1]-f.lift,text:f.sig[p.dataIndex][3],fill:'#000',fontSize:27,fontFamily:FONT,align:'center',verticalAlign:'middle'}}]};}});
}
function heading(cx,top,rich,plain,letter,lx,ly){
  title.push({text:'{i|SLC9A1}'+rich+'\n'+plain,left:cx,top:top,textAlign:'center',padding:0,
    textStyle:{fontFamily:FONT,fontWeight:'bold',fontSize:30.7,lineHeight:30.5,color:'#000',
      rich:{i:{fontStyle:'italic',fontWeight:'bold',fontFamily:FONT,fontSize:30.7,lineHeight:30.5,color:'#000'}}}});
  graphic.push({type:'text',x:lx,y:ly,silent:true,style:{text:letter,fill:'#000',fontFamily:FONT,fontWeight:'bold',fontSize:50,verticalAlign:'middle'}});
}
function strip(x,w,label){
  graphic.push({type:'rect',silent:true,z:5,shape:{x:x,y:616.9,width:w,height:31.1},style:{fill:'#d9d9d9',stroke:'#333',lineWidth:2}});
  graphic.push({type:'text',silent:true,z:6,x:x+w/2,y:633,style:{text:label,fill:'#1a1a1a',fontFamily:FONT,fontSize:21.5,align:'center',verticalAlign:'middle'}});
}
const cgga={breaks:cggaBreaks,minors:cggaMinor,tickLabels:cggaLabels};
const tcga={breaks:tcgaBreaks,minors:tcgaMinor,tickLabels:tcgaLabels};
// A, B
facet({...cgga,x:97.3,w:574.7,top:66,h:425,ymin:-.106,ymax:2.306,cats:gradeCats,colors:gradeColors,groups:[A1,A2,A3],boxes:boxA,sig:sigA,lift:5,gap:55,namePad:[0,14,0,0],labelShift:[-.012,.015,.037]});
facet({...tcga,x:828.3,w:587.3,top:63.5,h:425.5,ymin:.756,ymax:5.2,cats:gradeCats,colors:gradeColors,groups:[B1,B2,B3],boxes:boxB,sig:sigB,lift:5,gap:38,namePad:[0,14,0,0],labelShift:[.02,.025,.025]});
// C facets
const cX=[97.3,292.9,488],cW=[184,183.4,184];
[[C2a,C2b,boxC2,sigC2],[C3a,C3b,boxC3,sigC3],[C4a,C4b,boxC4,sigC4]].forEach((d,i)=>{
  facet({...cgga,x:cX[i],w:cW[i],top:648,h:397.6,ymin:-.139,ymax:2.308,cats:idhCats,colors:idhColors,groups:[d[0],d[1]],boxes:d[2],sig:d[3],sigW:2,lift:3,gap:i?0:55,namePad:[0,0,0,38],labelShift:[0,-.03]});
  strip(cX[i],cW[i],gradeCats[i]);
});
// D facets
const dX=[828.3,1027.4,1227.4],dW=[187.7,188.2,187.8];
[[D2a,D2b,boxD2,sigD2],[D3a,D3b,boxD3,sigD3],[D4a,D4b,boxD4,sigD4]].forEach((d,i)=>{
  facet({...tcga,x:dX[i],w:dW[i],top:648,h:397.6,ymin:.7,ymax:5.2,cats:idhCats,colors:idhColors,groups:[d[0],d[1]],boxes:d[2],sig:d[3],sigW:2,lift:3,gap:i?0:38,namePad:[0,0,0,38],labelShift:[0,-.045]});
  strip(dX[i],dW[i],gradeCats[i]);
});
// E, F
facet({...cgga,x:99,w:569.8,top:1174,h:449,ymin:-.105,ymax:2.309,cats:subtypeCats,colors:subtypeColors,groups:[E1,E2,E3,E4],boxes:boxE,sig:sigE,sigW:2,lift:4,gap:55,namePad:[0,5,0,0],labelShift:[.013,.013,.013,.013]});
facet({...tcga,x:829.6,w:582.9,top:1174,h:449,ymin:.497,ymax:5.21,cats:subtypeCats,colors:subtypeColors,groups:[F1,F2,F3,F4],boxes:boxF,sig:sigF,sigW:2,lift:4,gap:38,namePad:[0,5,0,0],labelShift:[.013,.013,.013,.013]});

heading(384,1,' vs WHO Grade','(CGGA Dataset)','A',0,35.5);
heading(1122,1,' vs WHO Grade','(TCGA Dataset)','B',754,35.5);
heading(384,553.5,' vs {i|IDH} mutant status','(CGGA Dataset)','C',0,576);
heading(1122,553.5,' vs {i|IDH} mutant status','(TCGA Dataset)','D',754,576);
heading(384,1109,' vs TCGA subtype','(CGGA Dataset)','E',0,1128);
heading(1122,1109,' vs TCGA subtype','(TCGA Dataset)','F',754,1128);

const chart=echarts.init(document.getElementById('c'),null,{renderer:'canvas'});
chart.setOption({animation:false,backgroundColor:'#fff',title,grid,xAxis,yAxis,series,graphic:{elements:graphic}});
</script>
</body></html>
